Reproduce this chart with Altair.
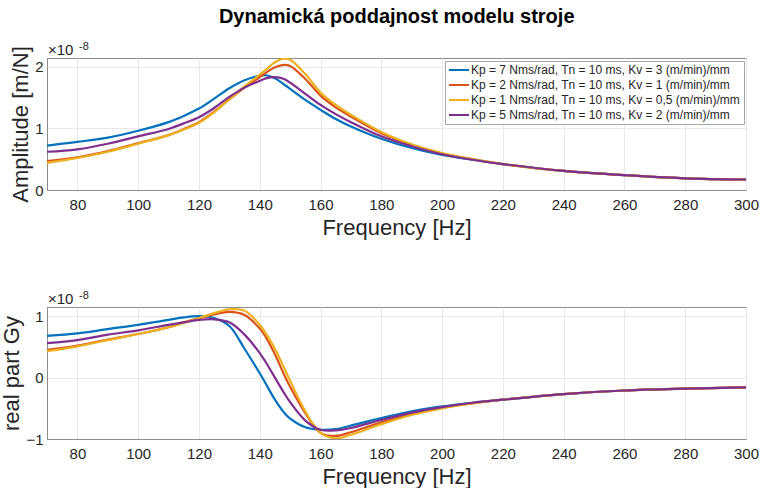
import altair as alt
import pandas as pd

FONT = "Liberation Sans"
TXT = "#262626"

freq = [70, 80, 90, 100, 110, 115, 120, 125, 130, 135, 140, 142, 145, 148, 150,
        155, 160, 165, 170, 180, 190, 200, 210, 220, 240, 260, 280, 300]

labels = [
    "Kp = 7 Nms/rad, Tn = 10 ms, Kv = 3 (m/min)/mm",
    "Kp = 2 Nms/rad, Tn = 10 ms, Kv = 1 (m/min)/mm",
    "Kp = 1 Nms/rad, Tn = 10 ms, Kv = 0,5 (m/min)/mm",
    "Kp = 5 Nms/rad, Tn = 10 ms, Kv = 2 (m/min)/mm",
]
colors = ["#0072BD", "#D95319", "#EDB120", "#7E2F8E"]

# Amplitude [m/N], in units of 1e-8
amp_kp7 = [0.72, 0.78, 0.85, 0.96, 1.10, 1.20, 1.32, 1.48, 1.65, 1.78, 1.85, 1.86, 1.81, 1.71, 1.64,
           1.46, 1.30, 1.15, 1.03, 0.83, 0.68, 0.57, 0.49, 0.42, 0.31, 0.24, 0.19, 0.17]
amp_kp2 = [0.47, 0.53, 0.63, 0.76, 0.89, 0.99, 1.10, 1.27, 1.47, 1.66, 1.83, 1.90, 1.99, 2.03, 2.01,
           1.80, 1.53, 1.34, 1.19, 0.92, 0.73, 0.59, 0.50, 0.42, 0.31, 0.24, 0.19, 0.17]
amp_kp1 = [0.44, 0.52, 0.62, 0.75, 0.89, 0.98, 1.09, 1.26, 1.47, 1.68, 1.87, 1.95, 2.07, 2.13, 2.11,
           1.88, 1.58, 1.38, 1.22, 0.94, 0.74, 0.60, 0.50, 0.42, 0.31, 0.24, 0.19, 0.17]
amp_kp5 = [0.62, 0.66, 0.75, 0.87, 0.99, 1.08, 1.18, 1.33, 1.51, 1.66, 1.77, 1.81, 1.83, 1.80, 1.74,
           1.56, 1.38, 1.23, 1.10, 0.87, 0.71, 0.58, 0.49, 0.42, 0.31, 0.24, 0.19, 0.17]

# real part Gy, in units of 1e-8
re_kp7 = [0.68, 0.72, 0.79, 0.86, 0.94, 0.98, 1.00, 0.97, 0.84, 0.47, 0.07, -0.10, -0.36, -0.57, -0.67,
          -0.81, -0.85, -0.84, -0.78, -0.66, -0.55, -0.47, -0.41, -0.36, -0.27, -0.21, -0.18, -0.16]
re_kp2 = [0.45, 0.52, 0.62, 0.71, 0.82, 0.90, 0.97, 1.03, 1.07, 1.02, 0.80, 0.66, 0.38, 0.05, -0.15,
          -0.58, -0.90, -0.95, -0.89, -0.73, -0.60, -0.49, -0.42, -0.36, -0.27, -0.21, -0.18, -0.16]
re_kp1 = [0.43, 0.51, 0.61, 0.71, 0.82, 0.89, 0.97, 1.05, 1.11, 1.09, 0.86, 0.72, 0.47, 0.16, -0.05,
          -0.55, -0.90, -0.99, -0.93, -0.76, -0.61, -0.50, -0.42, -0.36, -0.27, -0.21, -0.18, -0.16]
re_kp5 = [0.56, 0.61, 0.70, 0.77, 0.86, 0.90, 0.94, 0.95, 0.90, 0.70, 0.40, 0.25, 0.00, -0.25, -0.40,
          -0.70, -0.85, -0.86, -0.82, -0.69, -0.57, -0.48, -0.41, -0.36, -0.27, -0.21, -0.18, -0.16]

x_ticks = [80, 100, 120, 140, 160, 180, 200, 220, 240, 260, 280, 300]

amps = [amp_kp7, amp_kp2, amp_kp1, amp_kp5]
reals = [re_kp7, re_kp2, re_kp1, re_kp5]
rows = []
for lab, a, r in zip(labels, amps, reals):
    for f, av, rv in zip(freq, a, r):
        rows.append({"f": f, "series": lab, "amp": av, "re": rv})
df = pd.DataFrame(rows)

W, H = 699, 132

x_enc = alt.X("f:Q", scale=alt.Scale(domain=[70, 300], nice=False, zero=False),
              axis=alt.Axis(values=x_ticks, title="Frequency [Hz]", labelFlush=False))


def exp_layers():
    t1 = alt.Chart(pd.DataFrame({"t": ["×10"]})).mark_text(
        align="left", baseline="alphabetic", fontSize=15, font=FONT, color=TXT
    ).encode(x=alt.value(1), y=alt.value(-3), text="t:N")
    t2 = alt.Chart(pd.DataFrame({"t": ["-8"]})).mark_text(
        align="left", baseline="alphabetic", fontSize=11, font=FONT, color=TXT
    ).encode(x=alt.value(32), y=alt.value(-8), text="t:N")
    return [t1, t2]


color_top = alt.Color(
    "series:N", sort=labels,
    scale=alt.Scale(domain=labels, range=colors),
    legend=alt.Legend(
        title=None, orient="none", legendX=398, legendY=3,
        symbolType="M-2,0H2", symbolSize=100, symbolStrokeWidth=2,
        symbolOffset=5, labelOffset=6,
        labelFontSize=12, labelFont=FONT, labelColor=TXT,
        fillColor="white", strokeColor="#a6a6a6", padding=3, rowPadding=3,
        labelLimit=400,
    ),
)
color_bot = alt.Color("series:N", sort=labels,
                      scale=alt.Scale(domain=labels, range=colors), legend=None)

top_lines = alt.Chart(df).mark_line(strokeWidth=2.2, interpolate="catmull-rom", clip=True).encode(
    x=x_enc,
    y=alt.Y("amp:Q", scale=alt.Scale(domain=[0, 2.14], nice=False),
            axis=alt.Axis(values=[0, 1, 2], title="Amplitude [m/N]", format="d")),
    color=color_top,
)
top = alt.layer(top_lines, *exp_layers()).properties(width=W, height=H)

bot_lines = alt.Chart(df).mark_line(strokeWidth=2.2, interpolate="catmull-rom", clip=True).encode(
    x=x_enc,
    y=alt.Y("re:Q", scale=alt.Scale(domain=[-1, 1.15], nice=False),
            axis=alt.Axis(values=[-1, 0, 1], title="real part Gy", format="d")),
    color=color_bot,
)
bot = alt.layer(bot_lines, *exp_layers()).properties(width=W, height=H)

chart = alt.vconcat(top, bot, spacing=50).resolve_scale(color="independent").properties(
    title=alt.TitleParams("Dynamická poddajnost modelu stroje", fontSize=20, fontWeight="bold",
                          font=FONT, color="black", anchor="middle", offset=14, dx=17),
    padding={"left": 0, "top": 6, "right": 0, "bottom": 0},
    background="white",
).configure_axis(
    labelFont=FONT, labelFontSize=15, labelColor=TXT,
    titleFont=FONT, titleFontSize=22, titleFontWeight="normal", titleColor=TXT,
    ticks=False, domainColor="#8c8c8c", domainWidth=1,
    grid=True, gridColor="#e8e8e8", gridWidth=1,
).configure_axisX(labelPadding=7, titlePadding=5).configure_axisY(
    labelPadding=4, titlePadding=2
).configure_view(stroke="#8c8c8c", strokeWidth=1)

chart.save("out.html", embed_options={"renderer": "svg", "actions": False})
